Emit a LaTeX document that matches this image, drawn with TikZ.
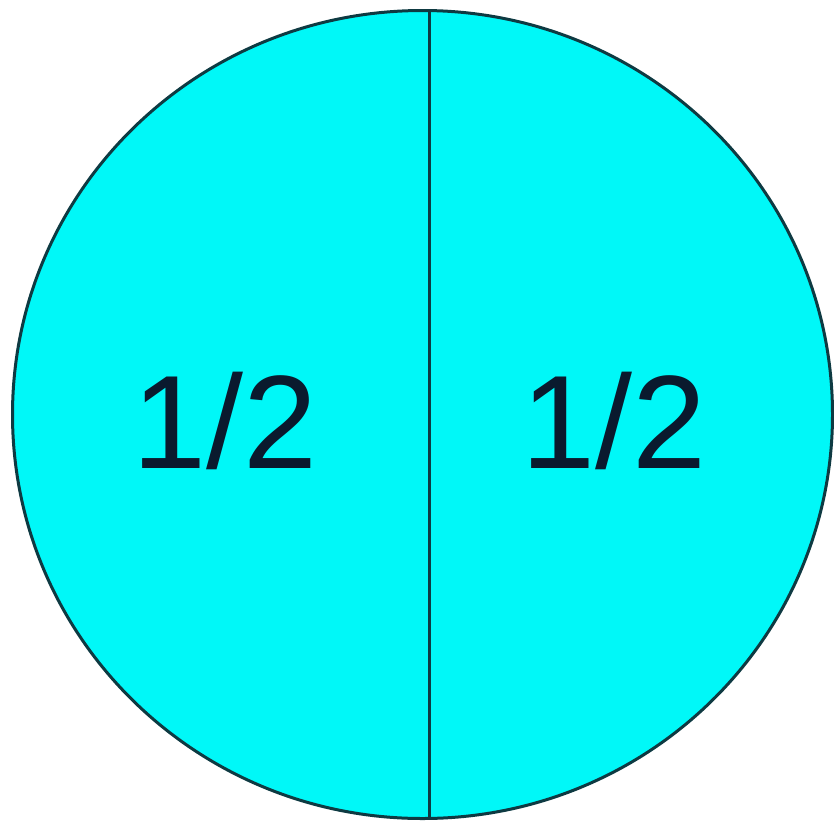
\documentclass[tikz,border=0pt]{standalone}
\usepackage{fontspec}
\setmainfont{Liberation Sans}
\definecolor{fillc}{HTML}{00F8F8}
\definecolor{edgec}{HTML}{0E3A42}
\definecolor{textc}{HTML}{0A1A2E}
\begin{document}
\begin{tikzpicture}[x=1pt,y=-1pt,
  half/.style={text=textc,font=\fontsize{133}{133}\selectfont,inner sep=0pt}]
\useasboundingbox (0,0) rectangle (834,825);
\fill[white] (0,0) rectangle (834,825);
\coordinate (c) at (422.5,414.5);
\draw[edgec,line width=3pt,fill=fillc] (c) ellipse [x radius=410, y radius=404];
\coordinate (top) at (429,10.5);
\coordinate (bot) at (429,818.5);
\draw[edgec,line width=3pt] (top) -- (bot);
\node[half] (l) at (225,421) {1/2};
\node[half] (r) at (614,421) {1/2};
\end{tikzpicture}
\end{document}
